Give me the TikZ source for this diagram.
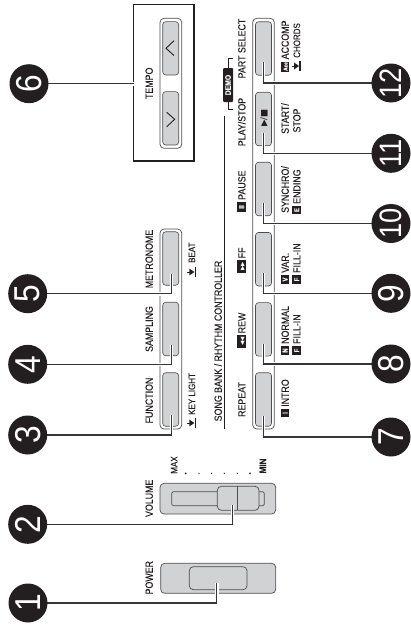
\documentclass[tikz,border=0pt]{standalone}
\usepackage{fontspec}
\setmainfont[FakeStretch=0.85,FakeBold=0.12]{Liberation Sans}
\newfontfamily\symfont{DejaVu Sans}
\newfontfamily\numfont[FakeStretch=0.88]{Liberation Sans}
\definecolor{keygray}{HTML}{D1D2D3}
\definecolor{ink}{HTML}{231F20}
\tikzset{
  x=1pt,y=-1pt,
  lab/.style={rotate=90,inner sep=0pt,text=ink,font=\fontsize{10.4}{10.4}\selectfont,text height=7.5pt,text depth=0pt},
  small/.style={lab,font=\fontsize{9.4}{9.4}\selectfont,text height=6.8pt},
  badge/.style={rotate=90,fill=ink,text=white,inner sep=0pt,minimum width=8.6pt,minimum height=8.6pt,font=\fontsize{7}{7}\bfseries\selectfont,text height=5pt,text depth=0pt},
  keybtn/.style={draw=ink!80,fill=keygray,line width=.6pt,rounded corners=3pt,inner sep=0pt,minimum width=16pt,minimum height=53.5pt},
  outline/.style={draw=ink!80,line width=.7pt,rounded corners=4pt},
  numc/.style={circle,fill=ink,text=white,inner sep=0pt,minimum size=39pt,rotate=90,font=\numfont\fontsize{36}{36}\selectfont},
  numd/.style={numc,font=\numfont\fontsize{31}{31}\selectfont},
  lead/.style={draw=ink!90,line width=1.1pt,preaction={draw=white,line width=3.6pt}},
}
\newcommand{\pedal}[2]{%
  \fill[ink] (#1-2.6,#2-3.4) -- (#1+2.4,#2) -- (#1-2.6,#2+3.4) -- cycle;
  \draw[ink,line width=.9pt] (#1-5,#2) -- (#1,#2);
  \draw[ink,line width=1.3pt] (#1+3.4,#2-4.6) -- (#1+3.4,#2+4.6);}
\begin{document}
\begin{tikzpicture}
\useasboundingbox (0,0) rectangle (410,629);
% tempo panel
\node[draw=ink,line width=1.2pt,minimum width=60.5pt,minimum height=156.3pt,inner sep=0pt] (tempobox) at (163.7,82.9) {};
\draw[outline] (160,18.3) rectangle (181.7,148.3);
\node[keybtn] (tup) at (170.7,48.3) [minimum height=53.3pt] {};
\node[keybtn] (tdn) at (170.7,118.3) [minimum height=53.3pt] {};
\draw[ink,line width=.9pt] (174,40.7) -- (166,48.3) -- (174,55.5);
\draw[ink,line width=.9pt] (166.7,112.3) -- (174.7,119.3) -- (166.7,126.7);
\node[lab] (ttempo) at (149,83.3) {TEMPO};
% left group
\draw[outline] (160,229) rectangle (181.7,429);
\node[keybtn] (bmet) at (170.7,258.5) {};
\node[keybtn] (bsam) at (170.7,329) {};
\node[keybtn] (bfun) at (170.7,399.5) {};
% right group
\draw[outline] (252.7,18.3) rectangle (274.3,429);
\node[keybtn] (bpart) at (263.5,48.5) {};
\node[keybtn] (bplay) at (263.5,119) {};
\node[keybtn] (bsyn) at (263.5,189) {};
\node[keybtn] (bvar) at (263.5,259.2) {};
\node[keybtn] (bnor) at (263.5,329.4) {};
\node[keybtn] (brep) at (263.5,399.5) {};
\node[rotate=90,inner sep=0pt,text=ink,font=\symfont\fontsize{8.5}{8.5}\selectfont] (tss) at (264,118) {▶/■};
% volume
\draw[outline,fill=keygray] (160,483.3) rectangle (275.7,514);
\draw[draw=ink!80,line width=.7pt,fill=keygray,rounded corners=1.5pt] (171.7,491.7) rectangle (264.3,505.7);
\draw[outline,fill=keygray] (217.3,486.3) rectangle (259,510.3);
\draw[ink!80,line width=.7pt] (237.7,486.3) -- (237.7,510.3);
% power
\draw[outline,fill=keygray] (160.7,563.3) rectangle (275.7,593.3);
\draw[outline,fill=keygray] (189.3,566.7) rectangle (247,589.7);
% dots
\foreach \dx/\rr in {185.7/1,199/.7,211.7/.7,224.3/.7,237.3/.7,250/1}
  \fill[ink] (\dx,473.3) circle (\rr pt);
% song bank rule & demo
\coordinate (sbtop) at (224.3,116);
\coordinate (sbbot) at (224.3,429);
\draw[ink,line width=1.4pt] (sbtop) -- (sbbot);
\node[rotate=90,fill=ink,text=white,inner sep=0pt,rounded corners=1pt,minimum width=34pt,minimum height=10pt,font=\fontsize{8}{8}\bfseries\selectfont] (demo) at (228,85) {DEMO};
\coordinate (dmt) at (233,58);
\coordinate (dmb) at (233,109.5);
\draw[ink,line width=.8pt] (demo.east) -- (demo.east |- dmt) -- (dmt);
\draw[ink,line width=.8pt] (demo.west) -- (demo.west |- dmb) -- (dmb);
% leaders
\foreach \n/\cx/\cy/\tx/\ty/\dbl in {
  1/28/603/216.7/583/0, 2/27.7/524.3/232.3/505/0, 3/27.7/435/171.3/415/0,
  4/27.7/364.3/171.3/345/0, 5/27.7/293.7/171.3/274/0, 6/29/83.7/133.5/83.7/0,
  7/391/437/263.3/416/0, 8/391/364/263.3/344/0, 9/391/293.3/263.3/273/0,
  10/391/223.5/263.3/203/1, 11/391/153.3/263.3/133/1, 12/391/83/263.3/62/1}{
  \coordinate (t\n) at (\tx,\ty);
  \coordinate (o\n) at (\cx,\cy);
  \draw[lead] (o\n) -- (o\n -| t\n) -- (t\n);
  \ifnum\dbl=0 \node[numc] (c\n) at (o\n) {\n};
  \else \node[numd] (c\n) at (o\n) {\n}; \fi
}
% labels above/below
\node[lab] (lpow) at (149,577.7) {POWER};
\node[lab] (lvol) at (149,498.3) {VOLUME};
\node[lab] (lfun) at (149,400.5) {FUNCTION};
\node[lab] (lsam) at (149,329) {SAMPLING};
\node[lab] (lmet) at (149,259) {METRONOME};
\node[small] (lmax) at (174,465) {MAX};
\node[small,font=\fontsize{9.4}{9.4}\bfseries\selectfont] (lmin) at (262.7,466) {MIN};
\node[small,anchor=west] (lkey) at (191.7,415) {KEY LIGHT};
\pedal{192}{423}
\node[small,anchor=west] (lbeat) at (191.7,263) {BEAT};
\pedal{192}{272}
\node[lab] (lsb) at (218,341) {SONG BANK / RHYTHM CONTROLLER};
\node[lab] (lrep) at (241.7,399.5) {REPEAT};
\node[lab] (lpart) at (241.7,48.5) {PART SELECT};
\node[lab] (lplay) at (241.7,122) {PLAY/STOP};
\node[lab,anchor=west] (lpause) at (241.7,200) {PAUSE};
\node[badge,minimum width=10pt,font=\fontsize{7.5}{7.5}\bfseries\selectfont] (bpause) at (241.7,207) {II};
\node[lab,anchor=west] (lff) at (241.7,258.5) {FF};
\node[badge,minimum width=13pt,font=\symfont\fontsize{5.5}{5.5}\selectfont] (bff) at (241.7,266.5) {▶▶};
\node[lab,anchor=west] (lrew) at (241.7,333.5) {REW};
\node[badge,minimum width=13pt,font=\symfont\fontsize{5.5}{5.5}\selectfont] (brew) at (241.7,341.5) {◀◀};
% lower labels
\node[lab,anchor=west] (lint) at (285,407) {INTRO};
\node[badge] (bi) at (285,413) {I};
\node[lab,anchor=west] (lnor) at (285,344) {NORMAL};
\node[badge] (bn) at (285,350.5) {N};
\node[lab,anchor=west] (lfi1) at (296.7,344) {FILL-IN};
\node[badge] (bf1) at (296.7,350.5) {F};
\node[lab,anchor=west] (lvr) at (285,273) {VAR.};
\node[badge] (bv) at (285,279.5) {V};
\node[lab,anchor=west] (lfi2) at (296.7,273) {FILL-IN};
\node[badge] (bf2) at (296.7,279.5) {F};
\node[lab,anchor=west] (lsy) at (285,213) {SYNCHRO/};
\node[lab,anchor=west] (len) at (296.7,204) {ENDING};
\node[badge] (be) at (296.7,210) {E};
\node[lab] (lst) at (285,118.5) {START/};
\node[lab] (lsp) at (296.7,120.5) {STOP};
\node[lab,anchor=west] (lacc) at (285,59.5) {ACCOMP};
\node[badge,minimum width=10pt,font=\fontsize{5.5}{5.5}\bfseries\selectfont] (bacc) at (285,66.5) {Acc};
\node[small,anchor=west] (lcho) at (296.7,58) {CHORDS};
\pedal{296.7}{66}
\end{tikzpicture}
\end{document}
